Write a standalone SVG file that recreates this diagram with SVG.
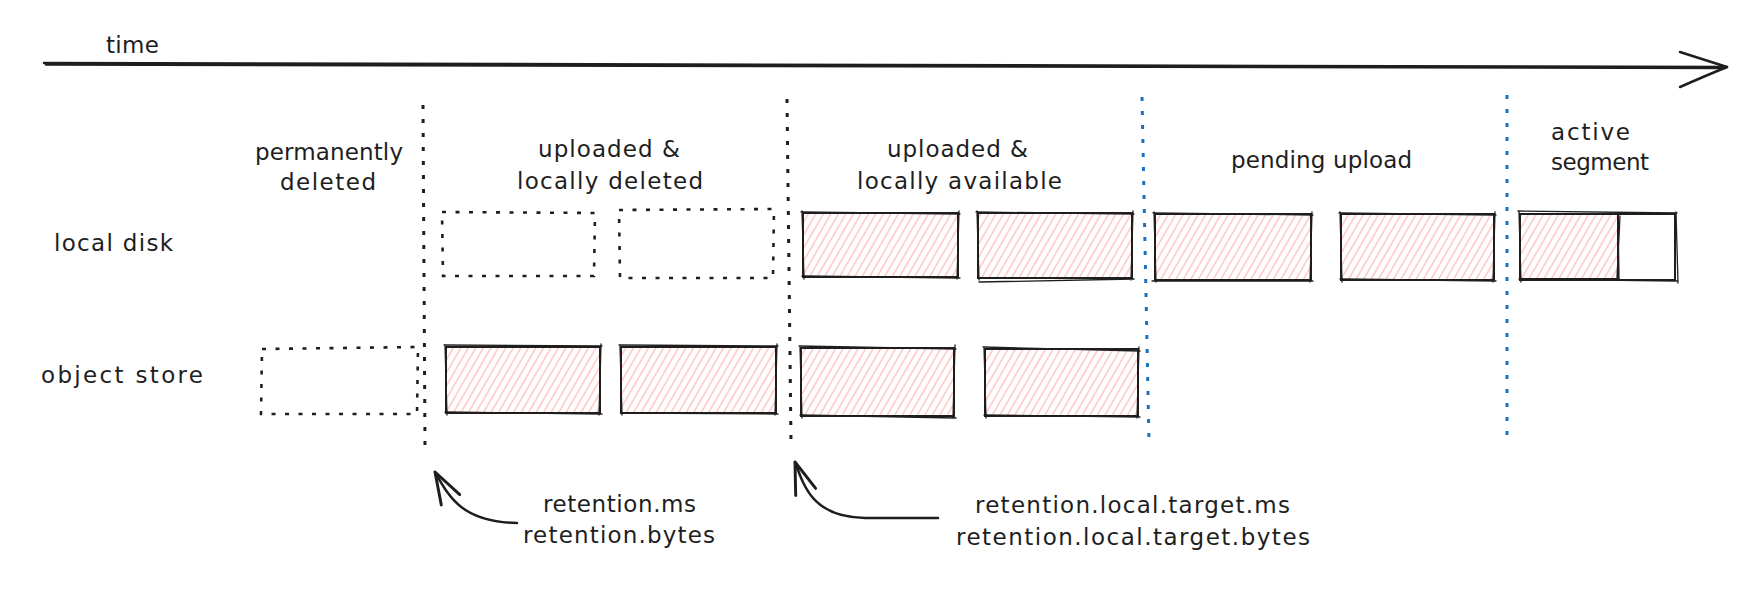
<svg xmlns="http://www.w3.org/2000/svg" width="1756" height="591" viewBox="0 0 1756 591">
<style>
.t{font-family:"DejaVu Sans","Liberation Sans",sans-serif;font-size:23px;fill:#1e1e1e}
.box{fill:url(#hatch);stroke:#1e1e1e;stroke-width:2}
.sk{fill:none;stroke:#1e1e1e;stroke-width:1.3;stroke-linecap:round}
.dbox{fill:none;stroke:#1e1e1e;stroke-width:2.6;stroke-dasharray:4 9.5}
.sep{fill:none;stroke:#1e1e1e;stroke-width:3;stroke-dasharray:4 10}
.sepb{fill:none;stroke:#1971c2;stroke-width:3;stroke-dasharray:4 10}
.arr{fill:none;stroke:#1e1e1e;stroke-width:2.5;stroke-linecap:round;stroke-linejoin:round}
</style>
<defs>
<pattern id="hatch" patternUnits="userSpaceOnUse" width="6.5" height="20" patternTransform="rotate(30)">
<line x1="1" y1="0" x2="1" y2="20" stroke="#ffc0c0" stroke-width="1.4"/>
</pattern>
<marker id="head" markerUnits="userSpaceOnUse" markerWidth="40" markerHeight="40" viewBox="-30 -15 34 30" refX="0" refY="0" orient="auto-start-reverse">
<path d="M -27 -9 L 0 0 L -27 9" fill="none" stroke="#1e1e1e" stroke-width="2.5" stroke-linecap="round" stroke-linejoin="round"/>
</marker>
</defs>
<rect width="1756" height="591" fill="#ffffff"/>

<g id="timeline">
<path class="arr" d="M44 63 Q 900 64 1727 67"/>
<path class="arr" d="M46 64.5 Q 900 66 1725 68" stroke-width="1.2"/>
<path class="arr" d="M1680 52 Q 1705 60 1727 67 Q 1705 76 1680 87"/>
<text class="t" x="106" y="53" textLength="53">time</text>
</g>

<g id="separators">
<path class="sep" d="M423 105 L425 445"/>
<path class="sep" d="M787 99 L791 442"/>
<path class="sepb" d="M1142 97 L1149 442"/>
<path class="sepb" d="M1507 95 L1507 437"/>
</g>

<g id="headers">
<g id="h-permanently-deleted">
<text class="t" x="255" y="160" textLength="148">permanently</text>
<text class="t" x="280" y="190" textLength="96">deleted</text>
</g>
<g id="h-uploaded-locally-deleted">
<text class="t" x="538" y="157" textLength="142">uploaded &amp;</text>
<text class="t" x="517" y="189" textLength="186">locally deleted</text>
</g>
<g id="h-uploaded-locally-available">
<text class="t" x="887" y="157" textLength="141">uploaded &amp;</text>
<text class="t" x="857" y="189" textLength="205">locally available</text>
</g>
<g id="h-pending-upload">
<text class="t" x="1231" y="168" textLength="181">pending upload</text>
</g>
<g id="h-active-segment">
<text class="t" x="1551" y="140" textLength="79">active</text>
<text class="t" x="1551" y="170" textLength="98">segment</text>
</g>
</g>

<g id="row-labels">
<text id="local-disk" class="t" x="54" y="251" textLength="119">local disk</text>
<text id="object-store" class="t" x="41" y="383" textLength="162">object store</text>
</g>

<g id="local-disk-row">
<g id="ld-1"><path class="dbox" d="M442 212 L595 213 L594 276 L443 276 Z"/></g>
<g id="ld-2"><path class="dbox" d="M619 210 L774 209 L773 278 L620 278 Z"/></g>
<g id="ld-3"><rect class="box" x="803" y="213" width="155" height="64"/>
<path class="sk" d="M801 212 L960 214 M959 211 L957 279 M960 278 L802 276 M804 279 L802 211"/></g>
<g id="ld-4"><rect class="box" x="978" y="213" width="154" height="65"/>
<path class="sk" d="M976 212 L1134 214 M1133 211 L1131 280 M1134 279 L979 282 M979 280 L977 211"/></g>
<g id="ld-5"><rect class="box" x="1155" y="214" width="156" height="66"/>
<path class="sk" d="M1153 213 L1313 215 M1312 212 L1310 282 M1313 281 L1152 281 M1156 282 L1154 212"/></g>
<g id="ld-6"><rect class="box" x="1341" y="214" width="153" height="66"/>
<path class="sk" d="M1339 213 L1496 215 M1495 212 L1493 282 M1496 281 L1340 279 M1342 282 L1340 212"/></g>
<g id="ld-active"><rect class="box" x="1520" y="214" width="98" height="65" stroke="none"/>
<rect x="1520" y="214" width="155" height="66" fill="none" stroke="#1e1e1e" stroke-width="2"/>
<path class="sk" d="M1518 211 L1677 213 M1676 212 L1678 283 M1677 281 L1519 279 M1521 282 L1519 212 M1618 214 L1619 279 M1620 216 L1617 278"/></g>
</g>

<g id="object-store-row">
<g id="os-0"><path class="dbox" d="M262 349 L418 347 L417 414 L261 414 Z"/></g>
<g id="os-1"><rect class="box" x="446" y="347" width="154" height="66"/>
<path class="sk" d="M444 345 L602 346 M601 344 L599 415 M602 414 L445 412 M447 415 L445 345"/></g>
<g id="os-2"><rect class="box" x="621" y="347" width="155" height="66"/>
<path class="sk" d="M619 345 L778 346 M777 344 L775 415 M778 414 L622 413 M622 415 L620 345"/></g>
<g id="os-3"><rect class="box" x="801" y="348" width="153" height="68"/>
<path class="sk" d="M799 346 L956 349 M955 345 L953 418 M956 418 L800 415 M802 418 L800 346"/></g>
<g id="os-4"><rect class="box" x="985" y="349" width="153" height="67"/>
<path class="sk" d="M983 347 L1140 351 M1139 347 L1137 418 M1140 417 L984 415 M986 418 L984 347"/></g>
</g>

<g id="connectors">
<path class="arr" d="M435 472 C 449 497, 462 522, 517 523" marker-start="url(#head)"/>
<path class="arr" d="M795 462 C 805 490, 815 517, 865 518 L 938 518" marker-start="url(#head)"/>
</g>

<g id="annotations">
<g id="retention">
<text class="t" x="543" y="512" textLength="153">retention.ms</text>
<text class="t" x="523" y="543" textLength="192">retention.bytes</text>
</g>
<g id="retention-local">
<text class="t" x="975" y="513" textLength="315">retention.local.target.ms</text>
<text class="t" x="956" y="545" textLength="354">retention.local.target.bytes</text>
</g>
</g>
</svg>
